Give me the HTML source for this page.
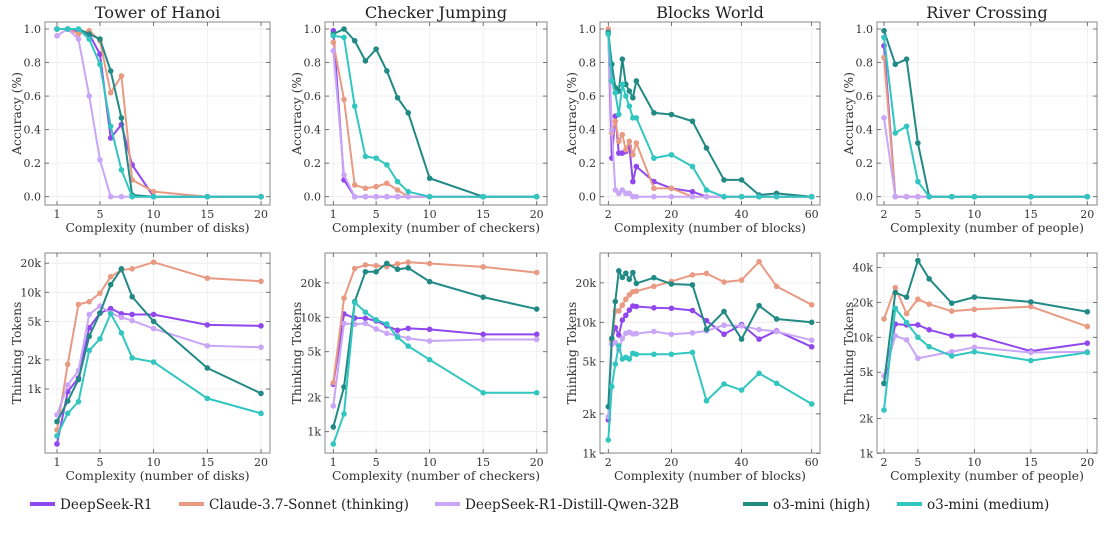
<!DOCTYPE html>
<html><head><meta charset="utf-8"><style>
html,body{margin:0;padding:0;background:#fff;}
svg{display:block;font-family:"DejaVu Serif","Liberation Serif",serif;}
</style></head><body>
<svg id="chart" width="1107" height="535" viewBox="0 0 1107 535"></svg>
<script>
const models=["DeepSeek-R1","Claude-3.7-Sonnet (thinking)","DeepSeek-R1-Distill-Qwen-32B","o3-mini (high)","o3-mini (medium)"];
const colors=["#9147ee","#e99a82","#c9a6f7","#218a85","#32c6c0"];
const modelKeys=["deepseek-r1","claude","distill-qwen","o3-high","o3-medium"];

// Tower of Hanoi
const hanoiX=[1,2,3,4,5,6,7,8,10,15,20];
const hanoiAccR1=[1,1,0.98,0.97,0.85,0.35,0.43,0.19,0,0,0];
const hanoiAccClaude=[1,1,0.97,0.99,0.93,0.62,0.72,0.10,0.03,0,0];
const hanoiAccDistill=[0.96,1,0.94,0.60,0.22,0,0,0,0,0,0];
const hanoiAccO3High=[1,1,1,0.97,0.94,0.75,0.47,0.01,0,0,0];
const hanoiAccO3Med=[1,1,1,0.94,0.79,0.42,0.16,0,0,0,0];
const hanoiTokR1=[270,940,1300,4300,6100,6800,6000,5900,5900,4600,4500];
const hanoiTokClaude=[377,1800,7500,8000,9800,14500,17000,17500,20500,14000,13000];
const hanoiTokDistill=[540,1100,1550,5900,7200,6100,5500,5100,4200,2800,2700];
const hanoiTokO3High=[460,750,1250,3500,6100,12000,17500,9000,5000,1650,900];
const hanoiTokO3Med=[327,560,740,2500,3300,6000,3800,2100,1900,800,560];

// Checker Jumping
const checkerX=[1,2,3,4,5,6,7,8,10,15,20];
const checkerAccR1=[0.99,0.10,0,0,0,0,0,0,0,0,0];
const checkerAccClaude=[0.92,0.58,0.07,0.05,0.06,0.08,0.04,0,0,0,0];
const checkerAccDistill=[0.87,0.13,0,0,0,0,0,0,0,0,0];
const checkerAccO3High=[0.97,1.0,0.93,0.81,0.88,0.75,0.59,0.50,0.11,0,0];
const checkerAccO3Med=[0.96,0.95,0.54,0.24,0.23,0.19,0.09,0.03,0,0,0];
const checkerTokR1=[2600,10700,9850,9800,9300,8400,7700,8000,7850,7100,7100];
const checkerTokClaude=[2680,14700,26700,28700,28300,27700,29300,30300,29500,27600,24600];
const checkerTokDistill=[1680,8850,8700,8850,7900,7250,6900,6550,6200,6400,6400];
const checkerTokO3High=[1100,2460,13700,25000,25000,29600,26300,27000,20500,15000,11800];
const checkerTokO3Med=[780,1430,13500,11100,9500,8750,6700,5600,4260,2190,2190];

// Blocks World
const blocksX=[2,3,4,5,6,7,8,9,10,15,20,26,30,35,40,45,50,60];
const blocksAccR1=[0.98,0.23,0.48,0.26,0.26,0.27,0.30,0.09,0.18,0.09,0.05,0.03,0,0,0,0,0,0];
const blocksAccClaude=[1.0,0.38,0.45,0.33,0.37,0.28,0.33,0.25,0.32,0.05,0.05,0,0,0,0,0,0,0];
const blocksAccDistill=[0.97,0.40,0.04,0.02,0.04,0.02,0.02,0,0,0,0,0,0,0,0,0,0,0];
const blocksAccO3High=[0.98,0.79,0.65,0.63,0.82,0.67,0.63,0.59,0.69,0.50,0.49,0.45,0.29,0.10,0.10,0.01,0.02,0];
const blocksAccO3Med=[0.97,0.69,0.62,0.49,0.67,0.60,0.54,0.47,0.47,0.23,0.25,0.18,0.04,0,0,0,0,0];
const blocksTokR1=[1800,7300,9100,8000,10400,11300,12400,13300,13200,12900,12800,12300,10300,8100,9600,7440,8600,6500];
const blocksTokClaude=[null,7300,12200,12200,13500,15000,16200,17100,17300,18800,20500,23000,23600,20300,21000,29000,18800,13600];
const blocksTokDistill=[1900,6800,7000,6150,7500,8250,8400,8150,8200,8500,8100,8300,8600,9500,9400,8800,8500,7300];
const blocksTokO3High=[2270,7540,14400,24700,22000,23700,21300,24000,19800,21900,19600,19300,8850,12100,7430,13400,10600,10000];
const blocksTokO3Med=[1265,3230,4800,6600,5250,5400,5250,5800,5700,5700,5700,5900,2520,3380,3040,4080,3420,2380];

// River Crossing
const riverX=[2,3,4,5,6,8,10,15,20];
const riverAccR1=[0.90,0,0,0,0,0,0,0,0];
const riverAccClaude=[0.83,0,0,0,0,0,0,0,0];
const riverAccDistill=[0.47,0,0,0,0,0,0,0,0];
const riverAccO3High=[0.99,0.79,0.82,0.32,0,0,0,0,0];
const riverAccO3Med=[0.95,0.38,0.42,0.09,0,0,0,0,0];
const riverTokR1=[4000,13000,12800,12800,11600,10300,10400,7600,8900];
const riverTokClaude=[14400,26800,16000,21300,19300,16800,17400,18400,12400];
const riverTokDistill=[4650,10300,9500,6600,null,7500,8200,7400,7500];
const riverTokO3High=[4010,24300,22200,45900,31900,19700,22200,20200,16600];
const riverTokO3Med=[2360,17800,13400,10000,8300,6900,7500,6300,7400];

const accTicks=[0,0.2,0.4,0.6,0.8,1.0];
const accTickLabels=["0.0","0.2","0.4","0.6","0.8","1.0"];

const svg=document.getElementById('chart');
const NS="http://www.w3.org/2000/svg";
function mk(tag,attrs,parent){const e=document.createElementNS(NS,tag);for(const k in attrs)e.setAttribute(k,attrs[k]);(parent||svg).appendChild(e);return e;}

const panels=[
 {key:"hanoi",title:"Tower of Hanoi",xlabel:"Complexity (number of disks)",x:hanoiX,xt:[1,5,10,15,20],
  fl:45,fr:270,x0:1,px0:57,x1:20,px1:261,
  acc:[hanoiAccR1,hanoiAccClaude,hanoiAccDistill,hanoiAccO3High,hanoiAccO3Med],
  tok:[hanoiTokR1,hanoiTokClaude,hanoiTokDistill,hanoiTokO3High,hanoiTokO3Med],
  ref10k:292.3,dec:96.7,yt:[1000,2000,5000,10000,20000],ytl:["1k","2k","5k","10k","20k"]},
 {key:"checker",title:"Checker Jumping",xlabel:"Complexity (number of checkers)",x:checkerX,xt:[1,5,10,15,20],
  fl:325,fr:547,x0:1,px0:333.3,x1:20,px1:536.7,
  acc:[checkerAccR1,checkerAccClaude,checkerAccDistill,checkerAccO3High,checkerAccO3Med],
  tok:[checkerTokR1,checkerTokClaude,checkerTokDistill,checkerTokO3High,checkerTokO3Med],
  ref10k:317.3,dec:114.4,yt:[1000,2000,5000,10000,20000],ytl:["1k","2k","5k","10k","20k"]},
 {key:"blocks",title:"Blocks World",xlabel:"Complexity (number of blocks)",x:blocksX,xt:[2,20,40,60],
  fl:600,fr:820,x0:2,px0:608.3,x1:60,px1:811.7,
  acc:[blocksAccR1,blocksAccClaude,blocksAccDistill,blocksAccO3High,blocksAccO3Med],
  tok:[blocksTokR1,blocksTokClaude,blocksTokDistill,blocksTokO3High,blocksTokO3Med],
  ref10k:322.3,dec:131,yt:[1000,2000,5000,10000,20000],ytl:["1k","2k","5k","10k","20k"]},
 {key:"river",title:"River Crossing",xlabel:"Complexity (number of people)",x:riverX,xt:[2,5,10,15,20],
  fl:877,fr:1097,x0:2,px0:884,x1:20,px1:1087.3,
  acc:[riverAccR1,riverAccClaude,riverAccDistill,riverAccO3High,riverAccO3Med],
  tok:[riverTokR1,riverTokClaude,riverTokDistill,riverTokO3High,riverTokO3Med],
  ref10k:337.3,dec:116,yt:[1000,2000,5000,10000,20000,40000],ytl:["1k","2k","5k","10k","20k","40k"]}
];

const TOP={t:22,b:205,y1:29,y0:196.7};
const BOT={t:253,b:453};

function drawFrame(g,p,t,b,yticks,ymap,ylabels,ylabel,name){
  const xs=v=>p.px0+(v-p.x0)*(p.px1-p.px0)/(p.x1-p.x0);
  p.xt.forEach(v=>{const l=mk('line',{x1:xs(v),x2:xs(v),y1:t,y2:b,stroke:"#ececec","stroke-width":0.8},g);
    });
  yticks.forEach(v=>{const y=ymap(v);const l=mk('line',{x1:p.fl,x2:p.fr,y1:y,y2:y,stroke:"#ececec","stroke-width":0.8},g);
    });
  const fr=mk('rect',{x:p.fl,y:t,width:p.fr-p.fl,height:b-t,fill:"none",stroke:"#888","stroke-width":1},g);
  
  p.xt.forEach(v=>{const x=xs(v);
    mk('line',{x1:x,x2:x,y1:b,y2:b-4,stroke:"#555","stroke-width":0.8},g);
    mk('line',{x1:x,x2:x,y1:t,y2:t+4,stroke:"#555","stroke-width":0.8},g);
    const tx=mk('text',{x:x,y:b+13,"text-anchor":"middle","font-size":"11",fill:"#333"},g);tx.textContent=v;
    });
  yticks.forEach((v,i)=>{const y=ymap(v);
    mk('line',{x1:p.fl,x2:p.fl+4,y1:y,y2:y,stroke:"#555","stroke-width":0.8},g);
    mk('line',{x1:p.fr,x2:p.fr-4,y1:y,y2:y,stroke:"#555","stroke-width":0.8},g);
    const tx=mk('text',{x:p.fl-4,y:y+4,"text-anchor":"end","font-size":"11",fill:"#333"},g);tx.textContent=ylabels[i];
    });
  const xl=mk('text',{x:(p.fl+p.fr)/2,y:b+27,"text-anchor":"middle","font-size":"12.3",fill:"#333"},g);xl.textContent=p.xlabel;
  
  const cy=(t+b)/2;const yx=p.fl-24;const yl=mk('text',{x:yx,y:cy,"text-anchor":"middle","font-size":"12.3",fill:"#333",transform:`rotate(-90 ${yx} ${cy})`},g);
  yl.textContent=ylabel;
  return xs;
}
function drawSeries(g,p,xs,ymap,series){
  series.forEach((vals,si)=>{
    const pts=[];vals.forEach((v,i)=>{if(v!==null)pts.push([xs(p.x[i]),ymap(v)]);});
    const pl=mk('polyline',{points:pts.map(q=>q.join(',')).join(' '),fill:"none",stroke:colors[si],"stroke-width":2,"stroke-linejoin":"round"},g);
    
    pts.forEach(q=>{const c=mk('circle',{cx:q[0],cy:q[1],r:2.8,fill:colors[si]},g);
      });
  });
}

panels.forEach(p=>{
  const g1=mk('g',{});
  const ya=v=>TOP.y0-(v)*(TOP.y0-TOP.y1);
  const xs=drawFrame(g1,p,TOP.t,TOP.b,accTicks,ya,accTickLabels,"Accuracy (%)",p.key+'-accuracy');
  const ti=mk('text',{x:(p.fl+p.fr)/2,y:18,"text-anchor":"middle","font-size":"16.2",fill:"#222"},g1);ti.textContent=p.title;
  
  drawSeries(g1,p,xs,ya,p.acc);
  const g2=mk('g',{});
  const yt=v=>p.ref10k-(Math.log10(v)-4)*p.dec;
  const xs2=drawFrame(g2,p,BOT.t,BOT.b,p.yt,yt,p.ytl,"Thinking Tokens",p.key+'-tokens');
  drawSeries(g2,p,xs2,yt,p.tok);
});

const legX=[30,179,435,743,897];
const lg=mk('g',{});
models.forEach((m,i)=>{
  const sw=mk('line',{x1:legX[i],x2:legX[i]+25,y1:504,y2:504,stroke:colors[i],"stroke-width":4},lg);
  
  const t=mk('text',{x:legX[i]+30,y:509,"font-size":"13.6",fill:"#222"},lg);t.textContent=m;
  
});
</script>
</body></html>
